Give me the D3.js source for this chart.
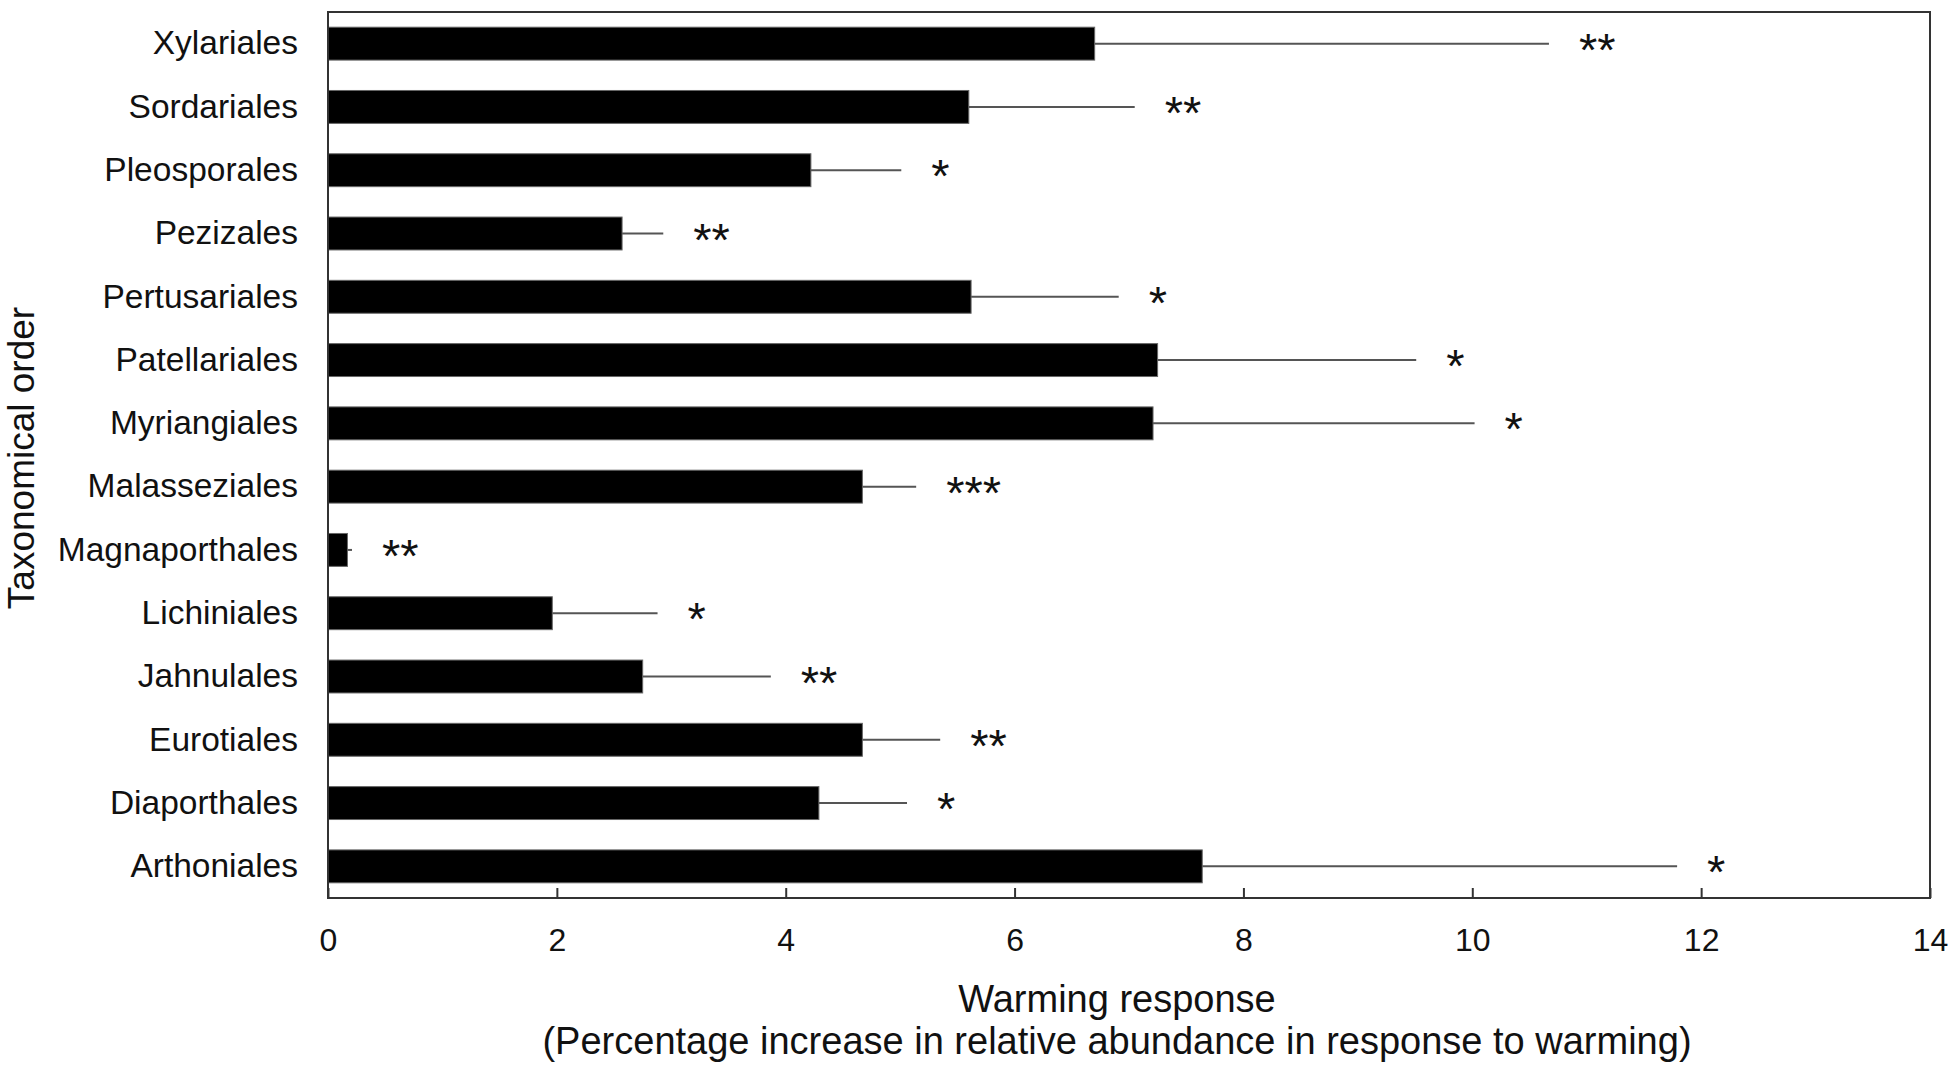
<!DOCTYPE html>
<html>
<head>
<meta charset="utf-8">
<script src="https://cdn.jsdelivr.net/npm/d3@7"></script>
<style>
  body { margin: 0; background: #fff; }
  text { font-family: "Liberation Sans", Arial, sans-serif; fill: #111; }
</style>
</head>
<body>
<div id="chart"></div>
<script>
// orders, top to bottom
const orders = ["Xylariales", "Sordariales", "Pleosporales", "Pezizales", "Pertusariales",
  "Patellariales", "Myriangiales", "Malasseziales", "Magnaporthales", "Lichiniales",
  "Jahnulales", "Eurotiales", "Diaporthales", "Arthoniales"];

// mean warming response (%)
const response = [6.70, 5.60, 4.22, 2.57, 5.62, 7.25, 7.21, 4.67, 0.17, 1.96, 2.75, 4.67, 4.29, 7.64];

// standard error (drawn to the right only)
const stdErr = [3.97, 1.45, 0.79, 0.36, 1.29, 2.26, 2.81, 0.47, 0.04, 0.92, 1.12, 0.68, 0.77, 4.15];

// significance marks
const signif = ["**", "**", "*", "**", "*", "*", "*", "***", "**", "*", "**", "**", "*", "*"];

const xTicks = [0, 2, 4, 6, 8, 10, 12, 14];

const W = 1950, H = 1071;
const margin = { top: 12, left: 328, right: 20, bottom: 173 };

const svg = d3.select("#chart")
  .append("svg")
  .attr("width", W)
  .attr("height", H);

const x = d3.scaleLinear()
  .domain([0, 14])
  .range([margin.left, W - margin.right]);

const y = d3.scaleBand()
  .domain(orders)
  .range([margin.top, H - margin.bottom])
  .paddingInner(0.48)
  .paddingOuter(0.24);

const rows = orders.map((o, i) => ({ name: o, v: response[i], se: stdErr[i], sig: signif[i] }));

// bars
svg.append("g")
  .selectAll("rect")
  .data(rows)
  .enter()
  .append("rect")
  .attr("x", x(0))
  .attr("y", d => y(d.name))
  .attr("width", d => x(d.v) - x(0))
  .attr("height", y.bandwidth())
  .attr("fill", "#000")
  .attr("stroke", "#666")
  .attr("stroke-width", 1);

// error bars (upper only, no caps)
svg.append("g")
  .selectAll("line")
  .data(rows)
  .enter()
  .append("line")
  .attr("x1", d => x(d.v))
  .attr("x2", d => x(d.v + d.se))
  .attr("y1", d => y(d.name) + y.bandwidth() / 2)
  .attr("y2", d => y(d.name) + y.bandwidth() / 2)
  .attr("stroke", "#555")
  .attr("stroke-width", 2);

// stars
svg.append("g")
  .selectAll("text")
  .data(rows)
  .enter()
  .append("text")
  .attr("x", d => x(d.v + d.se) + 30)
  .attr("y", d => y(d.name) + y.bandwidth() / 2 + 22)
  .style("font-size", "47px")
  .text(d => d.sig);

// frame
svg.append("rect")
  .attr("x", x(0))
  .attr("y", margin.top)
  .attr("width", x(14) - x(0))
  .attr("height", H - margin.bottom - margin.top)
  .attr("fill", "none")
  .attr("stroke", "#333")
  .attr("stroke-width", 2);

// x axis, ticks pointing in
const xAxis = svg.append("g")
  .attr("transform", `translate(0,${H - margin.bottom})`)
  .call(d3.axisBottom(x).tickValues(xTicks).tickSizeInner(-10).tickSizeOuter(0).tickPadding(30));
xAxis.select(".domain").remove();
xAxis.selectAll(".tick line").attr("stroke", "#333").attr("stroke-width", 2);
xAxis.selectAll("text").style("font-size", "32px").attr("fill", "#111");

// y axis labels
const yAxis = svg.append("g")
  .attr("transform", `translate(${x(0)},0)`)
  .call(d3.axisLeft(y).tickSize(0).tickPadding(30));
yAxis.select(".domain").remove();
yAxis.selectAll("text").style("font-size", "33.5px").attr("fill", "#111");

// axis titles
svg.append("text")
  .attr("x", 1117)
  .attr("y", 1012)
  .attr("text-anchor", "middle")
  .style("font-size", "38px")
  .text("Warming response");

svg.append("text")
  .attr("x", 1117)
  .attr("y", 1054)
  .attr("text-anchor", "middle")
  .style("font-size", "38px")
  .text("(Percentage increase in relative abundance in response to warming)");

svg.append("text")
  .attr("transform", "translate(34,458) rotate(-90)")
  .attr("text-anchor", "middle")
  .style("font-size", "37px")
  .text("Taxonomical order");
</script>
</body>
</html>
